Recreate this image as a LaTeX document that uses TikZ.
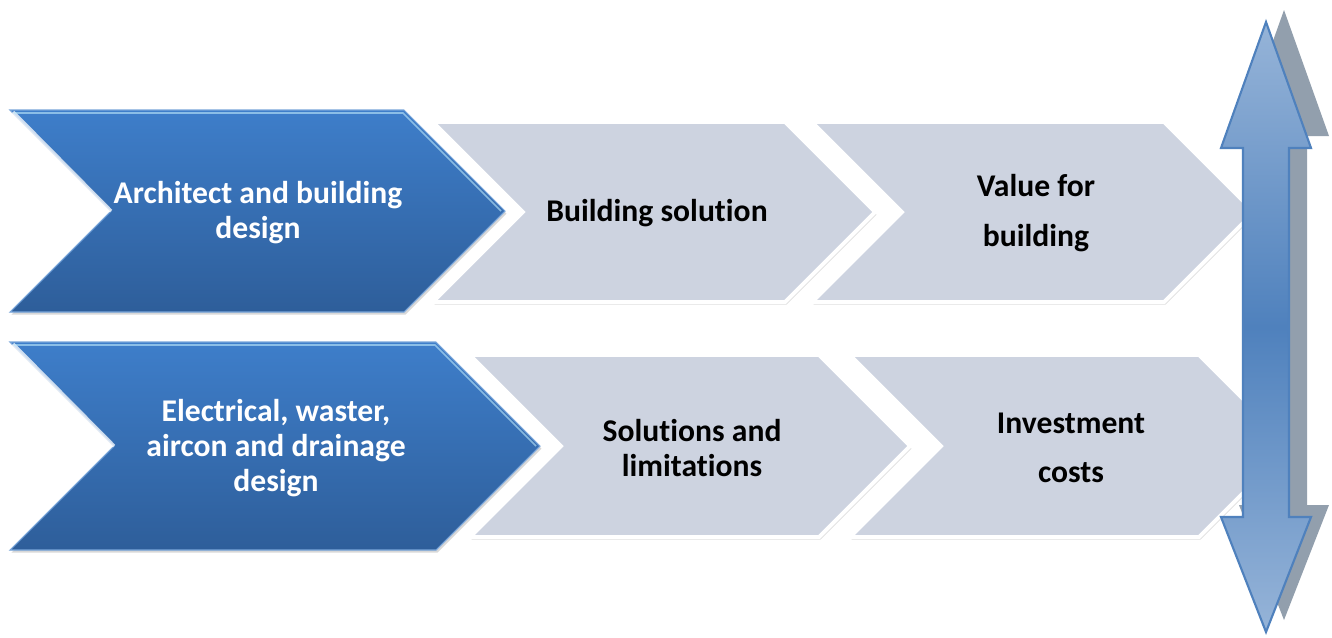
\documentclass[tikz,border=0pt]{standalone}
\usepackage{fontspec}
\setmainfont[Ligatures=NoCommon]{Carlito}
\usetikzlibrary{shadows}

\definecolor{chevblue}{RGB}{62,126,202}
\definecolor{chevbluedark}{RGB}{46,94,154}
\definecolor{chevgray}{RGB}{205,211,224}
\definecolor{arrowlight}{RGB}{150,180,216}
\definecolor{arrowmid}{RGB}{79,129,189}
\definecolor{arrowshadow}{RGB}{146,159,173}

\begin{document}
\begin{tikzpicture}[
    x=0.02cm, y=-0.02cm,
    font=\fontsize{18}{20}\selectfont\bfseries,
    blue_chev/.style={top color=chevblue, bottom color=chevbluedark, draw=chevblue!70!white, line width=0.6pt,
        drop shadow={shadow xshift=0.8pt, shadow yshift=-1.5pt, opacity=0.3}},
    gray_chev/.style={fill=chevgray, draw=white, line width=2.2pt,
        drop shadow={shadow xshift=0.8pt, shadow yshift=-1.5pt, opacity=0.25}},
    bevel_hi/.style={draw=white, line width=2pt, opacity=0.75},
    bevel_soft/.style={draw=cyan!25!white, line width=1pt, opacity=0.6},
    blue_text/.style={text=white, align=center},
    gray_text/.style={text=black, align=center},
    dbl_arrow/.style={top color=arrowlight, bottom color=arrowlight, middle color=arrowmid, draw=arrowmid, line width=1.2pt},
    arrow_shadow/.style={fill=arrowshadow}
]
\useasboundingbox[fill=white] (0,0) rectangle (1332,637);

% --- Top row: gray steps ---
\path[gray_chev] (433,122) -- (785,122) -- (875,212) -- (785,302) -- (433,302) -- (523,212) -- cycle;
\path[gray_chev] (812,122) -- (1164,122) -- (1254,212) -- (1164,302) -- (812,302) -- (902,212) -- cycle;

% --- Bottom row: gray steps ---
\path[gray_chev] (470,355) -- (819,355) -- (910,446) -- (819,537) -- (470,537) -- (561,446) -- cycle;
\path[gray_chev] (850,355) -- (1199,355) -- (1290,446) -- (1199,537) -- (850,537) -- (941,446) -- cycle;

% --- Blue steps ---
\path[blue_chev] (10,110) -- (404,110) -- (505,211) -- (404,312) -- (10,312) -- (111,211) -- cycle;
\draw[bevel_hi] (13,112) -- (111,211);
\draw[bevel_soft] (14,113) -- (403,113) -- (501,211);
\path[blue_chev] (10,342) -- (436,342) -- (540,446) -- (436,550) -- (10,550) -- (114,446) -- cycle;
\draw[bevel_hi] (13,344) -- (114,446);
\draw[bevel_soft] (14,345) -- (435,345) -- (536,446);

% --- Labels ---
\node[blue_text] (arch) at (258,213) {Architect and building\\design};
\node[gray_text] (bsol) at (657,213) {Building solution};
\node[gray_text] (value) at (1036,213) {Value for\\[8pt]building};
\node[blue_text] (elec) at (276,448) {Electrical, waster,\\aircon and drainage\\design};
\node[gray_text] (limit) at (692,448) {Solutions and\\limitations};
\node[gray_text] (invest) at (1071,448) {Investment\\[8pt]costs};

% --- Double arrow with shadow ---
\path[arrow_shadow, shift={(18,-12)}] (1266,22) -- (1311,148) -- (1289,148) -- (1289,517) -- (1311,517) -- (1266,632)
    -- (1221,517) -- (1243,517) -- (1243,148) -- (1221,148) -- cycle;
\path[dbl_arrow] (1266,22) -- (1311,148) -- (1289,148) -- (1289,517) -- (1311,517) -- (1266,632)
    -- (1221,517) -- (1243,517) -- (1243,148) -- (1221,148) -- cycle;

\end{tikzpicture}
\end{document}
